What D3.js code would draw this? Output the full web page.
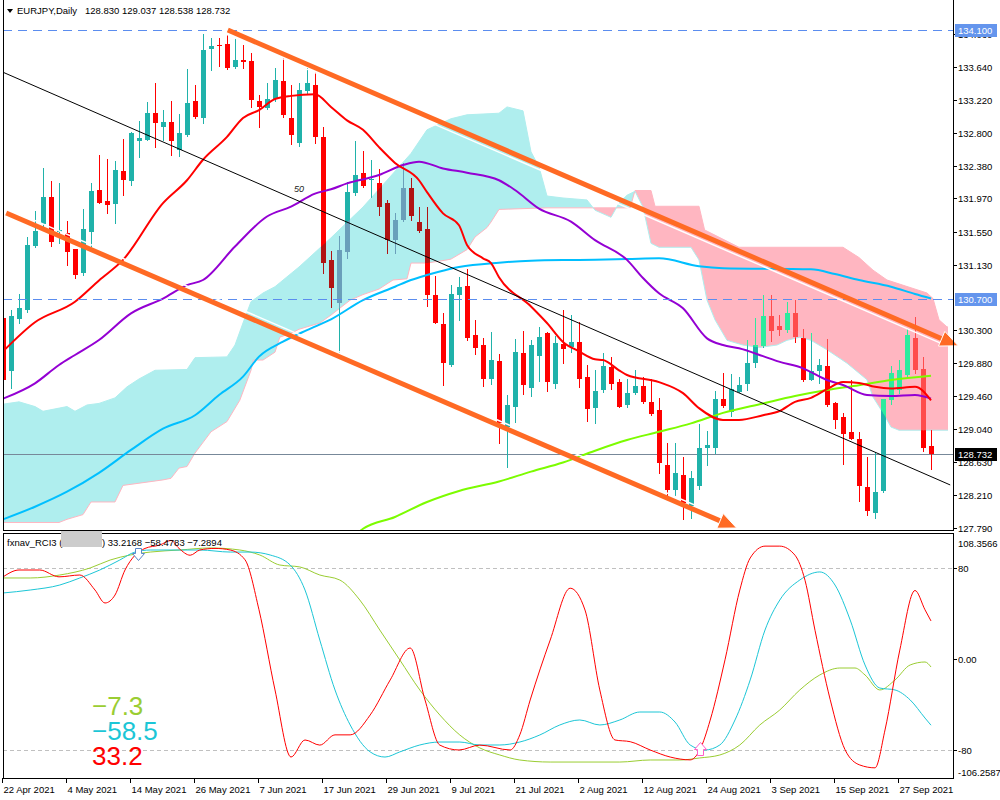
<!DOCTYPE html>
<html><head><meta charset="utf-8">
<script src="https://cdn.jsdelivr.net/npm/d3@7"></script>
<style>body{margin:0;background:#fff}svg{display:block}text{font-family:"Liberation Sans",Arial,sans-serif}</style>
</head><body>
<svg id="c" width="1000" height="800"></svg>
<script>
// ---------- DATA ----------
const opens = [130.45,129.785,130.44,130.555,131.366,131.645,131.992,131.54,131.527,131.324,131.02,131.548,132.076,131.937,131.9,132.317,132.19,132.70,132.719,133.057,132.88,132.943,132.575,132.774,133.205,132.985,133.868,133.915,133.928,133.64,133.725,133.712,133.205,133.112,133.226,133.458,132.993,132.668,133.323,133.408,132.753,131.19,130.64,131.294,132.034,132.288,132.2,132.161,131.907,131.442,131.687,132.097,131.675,131.582,130.745,130.377,129.857,130.736,130.859,130.238,130.11,129.68,129.908,129.075,129.329,130.014,129.57,129.963,130.267,129.616,130.123,130.081,130.149,129.701,129.316,129.54,129.828,129.646,129.341,129.498,129.591,129.392,129.287,128.589,128.272,128.462,128.069,128.327,128.8,128.8,129.426,129.253,129.519,129.616,129.878,130.102,130.478,130.352,130.301,130.521,130.195,129.675,129.785,129.844,129.379,129.202,129.012,128.915,128.306,127.976,128.251,129.422,129.54,129.73,130.195,129.802,128.830];
const highs = [130.47,130.555,130.757,131.485,131.81,132.36,132.19,132.16,131.683,131.33,131.83,132.16,132.52,132.47,132.448,132.72,132.81,132.95,133.196,133.437,133.09,133.205,133.04,133.606,133.408,134.054,134.01,134.01,134.04,134.01,133.915,133.809,133.28,133.43,133.619,133.746,133.408,133.43,133.619,133.577,132.871,131.3,131.49,132.18,132.698,132.571,132.457,132.338,131.95,131.78,132.414,132.224,131.865,131.857,130.98,130.512,130.872,130.97,131.08,130.428,130.195,130.28,129.997,129.477,130.183,130.293,130.174,130.343,130.28,130.225,130.555,130.491,130.407,129.857,129.794,130.005,129.954,129.68,129.68,129.794,129.709,129.675,129.434,128.864,128.864,128.695,128.513,129.109,129.024,129.532,129.751,129.739,129.7,130.174,130.449,130.745,130.745,130.491,130.66,130.681,130.309,130.267,129.929,130.183,129.39,129.253,129.667,129.012,128.687,128.758,129.43,129.845,129.92,130.309,130.47,129.963,129.037];
const lows = [129.66,129.57,130.385,130.53,131.35,131.62,131.36,131.40,131.125,130.956,131.0,131.366,131.91,131.78,131.66,132.01,132.14,132.50,132.71,132.626,132.71,132.52,132.507,132.76,132.985,132.93,133.598,133.649,133.61,133.619,133.619,133.133,132.88,133.1,133.2,133.006,132.655,132.634,133.3,132.668,131.02,130.59,130.026,131.21,132.01,132.11,131.992,131.76,131.273,131.273,131.68,131.696,131.54,130.61,130.39,129.604,129.85,130.428,130.18,129.997,129.591,129.616,128.872,128.568,129.139,129.49,129.464,129.659,129.532,129.561,129.887,130.026,129.582,129.151,129.117,129.519,129.553,129.32,129.33,129.49,129.38,129.22,128.484,128.209,128.2,127.9,127.913,128.28,128.589,128.745,129.33,129.21,129.51,129.54,129.828,130.09,130.166,130.238,130.28,130.153,129.66,129.67,129.633,129.34,129.054,128.602,128.915,128.133,127.955,127.913,128.25,129.363,129.5,129.71,129.75,128.77,128.538];
const closes = [129.67,130.478,130.576,131.379,131.556,131.992,131.421,131.57,131.282,130.998,131.582,132.064,131.916,131.886,132.33,132.203,132.803,132.74,133.057,132.93,132.943,132.702,132.795,133.184,132.998,133.852,133.902,133.906,133.619,133.725,133.695,133.218,133.125,133.23,133.471,133.027,132.774,133.344,133.43,132.753,131.155,130.83,131.315,132.055,132.266,132.119,132.216,131.857,131.442,131.696,132.097,131.738,131.561,130.74,130.394,129.887,130.757,130.842,130.195,130.068,129.68,129.92,129.126,129.35,130.026,129.604,130.11,130.208,129.646,130.14,130.056,130.145,129.68,129.299,129.527,129.845,129.612,129.329,129.498,129.591,129.392,129.244,128.61,128.272,128.483,128.111,128.428,128.809,128.843,129.426,129.341,129.549,129.604,129.878,130.11,130.478,130.293,130.301,130.521,130.216,129.667,129.785,129.857,129.35,129.168,128.991,128.927,128.314,127.997,128.243,129.422,129.76,129.794,130.238,129.785,128.8,128.732];

const dateLabels = ['22 Apr 2021','4 May 2021','14 May 2021','26 May 2021','7 Jun 2021','17 Jun 2021','29 Jun 2021','9 Jul 2021','21 Jul 2021','2 Aug 2021','12 Aug 2021','24 Aug 2021','3 Sep 2021','15 Sep 2021','27 Sep 2021'];
const dateIdx = [0,8,16,24,32,40,48,56,64,72,80,88,96,104,112];
const priceTicks = [134.060,133.640,133.220,132.800,132.380,131.970,131.550,131.130,130.300,129.880,129.460,129.040,128.630,128.210,127.790];
const rciTicks = [108.3566,80,0,-80,-106.2587];
const rciTickLabels = ['108.3566','80','0.00','-80','-106.2587'];

const maRedIdx = [0,4,9,12,15,20,23,25,28,30,32,34,36,39,41,43,45,47,49,52,53,55,57,58,60,61,62,66,68,70,72,74,75,77,78,82,85,87,90,92,95,97,99,101,103,105,107,109,111,114,116];
const maRedVal = [130.03,130.40,130.66,130.93,131.19,131.91,132.2,132.46,132.75,132.99,133.09,133.23,133.27,133.29,133.13,132.96,132.84,132.62,132.42,132.2,132.05,131.78,131.63,131.38,131.21,131.15,130.97,130.6,130.39,130.15,130.03,129.93,129.92,129.79,129.73,129.64,129.5,129.31,129.16,129.16,129.22,129.27,129.39,129.44,129.55,129.64,129.63,129.58,129.56,129.58,129.41];
const maPurpleIdx = [0,4,7,9,12,16,20,23,25,29,33,36,39,41,43,47,50,52,55,58,62,64,67,71,74,78,80,82,85,88,90,92,95,97,100,103,105,108,111,114,116];
const maPurpleVal = [129.43,129.625,129.857,129.984,130.174,130.512,130.7,130.87,130.935,131.36,131.74,131.865,132.03,132.085,132.16,132.266,132.393,132.436,132.35,132.296,132.2,132.076,131.84,131.675,131.44,131.19,130.96,130.766,130.576,130.195,130.11,130.07,129.97,129.9,129.815,129.667,129.604,129.477,129.464,129.477,129.43];
const maBlueIdx = [0,4,8,12,16,20,24,27,30,32,35,38,41,45,49,51,53,57,62,66,72,78,82,87,90,101,104,107,111,114,116];
const maBlueVal = [127.90,128.06,128.25,128.49,128.78,129.05,129.22,129.477,129.71,129.963,130.153,130.3,130.436,130.68,130.85,130.935,130.998,131.1,131.155,131.18,131.19,131.2,131.21,131.11,131.085,131.07,131.01,130.935,130.85,130.757,130.70];
const maGreenIdx = [44,45,49,53,57,62,66,70,74,78,82,86,90,95,99,103,107,111,116];
const maGreenVal = [127.70,127.78,127.93,128.12,128.26,128.38,128.505,128.62,128.77,128.905,129.01,129.117,129.25,129.37,129.464,129.54,129.6,129.667,129.72];

const spanAIdx = [0,2,4,5,8,9,10.5,12,14,15.5,17,19,23,24,28,29,30,31,32.5,34,37,41,45,48,51,53,56,58,62,63,65,66,67,68,70,73,74,76,77,78,79,80,81,82,86,87,87.5,88,89,90.5,92.5,94.6,96.75,98,99.6,101,103,105.5,108,108.75,110,111,112,118.5];
const spanAVal = [129.36,129.39,129.33,129.27,129.33,129.27,129.35,129.37,129.44,129.58,129.68,129.79,129.8,129.95,129.96,130.11,130.39,130.66,130.77,130.85,131.1,131.47,131.86,132.2,132.54,132.84,132.98,133.03,133.05,133.13,133.08,132.56,132.37,132.0,131.975,131.95,131.82,131.73,131.91,132.01,132.06,131.86,131.4,131.35,131.35,131.19,130.935,130.68,130.43,130.17,130.11,130.08,130.11,130.17,130.21,130.17,130.05,129.88,129.67,129.45,129.25,129.07,129.03,129.03];
const spanBIdx = [0,7,8,10,11,14,15,20,21,22,23,24,26,28,29.6,31,31.3,32.5,34,34.6,36,37,39.6,41,43.4,45,47,48.75,50.5,51,53,55.5,56,58,59,60.5,61,62,68,78.4,79,81,81.5,87,87.7,92,105,107,108.75,110.5,115.5,116.25,117,118,118.5];
const spanBVal = [127.86,127.86,127.9,127.96,128.12,128.12,128.33,128.4,128.42,128.55,128.57,128.74,129.01,129.14,129.41,129.79,129.92,129.92,130.02,130.21,130.26,130.31,130.39,130.49,130.68,130.75,130.82,130.935,130.95,131.15,131.15,131.19,131.2,131.32,131.48,131.6,131.67,131.83,131.85,131.85,132.07,132.07,131.87,131.87,131.57,131.35,131.35,131.22,131.06,130.935,130.77,130.7,130.43,130.34,130.34];

const trendBlack = [[0,133.57],[118.4,128.336]];
const trendUpper = [[28.1,134.105],[119.4,130.10]];
const trendLower = [[0.4,131.785],[91.7,127.79]];
const hLevels = [134.100,130.700];
const bidPrice = 128.732;

const rciRedIdx = [0,2,4.6,7,9.6,11.5,12.75,14,15.25,16.5,17.75,19.6,21,22,23.4,24.6,26.5,28.4,30.25,32,34,36,37.75,39.6,41.5,43.4,45.9,48.4,50.9,52.75,54.6,57,59.6,63.4,64.6,65.9,68.4,70.9,72.75,74.6,76.5,78.4,80.9,83.4,85.9,87.1,88.4,90.25,92.1,93.4,95.25,97.1,99,100.25,101.5,103.4,105.25,107.1,109,110.25,112.1,114,115.25,116];
const rciRedVal = [71.9,78,78,72,73.6,60.4,49,56,78,91,97,100,104,97,91,95.6,97,95.6,87,43,-27.5,-86.5,-71.5,-76,-67,-67,-49.5,-18.7,9.4,-36.3,-76,-80.3,-76,-80.3,-67,-36.3,16.4,62,42.8,-27.5,-71.5,-73,-80.3,-86.5,-89,-80.3,-54,-1,60.4,88.6,99,99,91,69,25,-36,-80,-93.5,-96,-62.7,7.6,60,43,33.2];
const rciCyanIdx = [0,3.4,7.1,9.6,12.1,14.6,16.5,18.4,22.1,24.6,28.4,30.9,33.4,35.9,37.75,39.6,41.5,43.4,45.9,47.75,49.6,52.1,54.6,57.1,59.6,62.1,64.6,67.1,69.6,72.1,74.6,77.1,79.6,82.1,84,85.9,87.75,89.6,91.5,93.4,95.25,97.1,99.6,102.1,104,105.9,107.75,109.6,111.5,113.4,115.25,116];
const rciCyanVal = [57.8,60.4,64.8,71,78,86.8,93.8,95.6,95.6,95.6,93.8,93.8,91.2,82.4,60.4,16.4,-27.5,-58.3,-82,-86.5,-82,-75.9,-73.3,-73.3,-75.9,-75.9,-73.3,-67.1,-58.3,-53.9,-58.3,-53.9,-46.9,-46.9,-55.7,-75.9,-80.3,-75.9,-53.9,-18.7,25.2,51.6,69.2,76.3,64.8,34,-5.5,-25.8,-27.5,-36.3,-52.2,-58.5];
const rciGreenIdx = [0,3.4,7.1,10.9,13.4,15.9,18.4,22.1,25.9,29.6,32.1,34.6,37.1,39.6,42.1,44.6,47.1,49.6,52.1,54.6,57.1,59.6,62.1,64.6,68.4,77.1,80.9,84.6,87.1,89.6,92.1,94.6,97.1,99.6,102.1,104.6,106.5,107.75,109.6,111.5,113.4,115.25,116];
const rciGreenVal = [71,71,73.6,79.8,86.8,91.2,93.8,95.6,97.4,95.6,91.2,82.4,80.7,73.6,69.2,51.6,25.2,-1.1,-27.5,-49.5,-67.1,-78.5,-84.7,-89.1,-90.9,-90.9,-89.1,-89.1,-87.3,-84.7,-75.9,-58.3,-45.1,-27.5,-14.3,-8.2,-8.2,-14.3,-27.5,-18.7,-5.5,-2.9,-7.3];
const rciLast = [33.2168,-58.4783,-7.2894];

// ---------- SCALES ----------
const svg = d3.select('#c');
const x = d3.scaleLinear().domain([0,116]).range([3,931]);
const y = d3.scaleLinear().domain([133.64,127.79]).range([66.7,528]);
const yr = d3.scaleLinear().domain([108.3566,-106.2587]).range([535.5,779.5]);
const PL=3, PR=953, PB=530;
const FONT = 9.5;

const pts = (idx,val)=>idx.map((d,k)=>[d,val[k]]);
const A = pts(spanAIdx,spanAVal), B = pts(spanBIdx,spanBVal);
const defs = svg.append('defs');
defs.append('clipPath').attr('id','mainClip').append('rect').attr('x',PL+1).attr('y',1).attr('width',PR-PL-1).attr('height',PB-1);
defs.append('clipPath').attr('id','cloudClip').append('rect').attr('x',PL+1).attr('y',1).attr('width',948-PL-1).attr('height',PB-1);
defs.append('clipPath').attr('id','subClip').append('rect').attr('x',PL+1).attr('y',534).attr('width',PR-PL-1).attr('height',244);
const areaBelow = d3.area().x(d=>x(d[0])).y0(d=>y(d[1])).y1(700);
const areaAbove = d3.area().x(d=>x(d[0])).y0(-50).y1(d=>y(d[1]));
defs.append('clipPath').attr('id','belowA').append('path').attr('d',areaBelow(A));
defs.append('clipPath').attr('id','aboveB').append('path').attr('d',areaAbove(B));
defs.append('clipPath').attr('id','belowB').append('path').attr('d',areaBelow(B));
defs.append('clipPath').attr('id','aboveA').append('path').attr('d',areaAbove(A));

const main = svg.append('g').attr('clip-path','url(#mainClip)');

// ---------- CLOUD ----------
const cloud = main.append('g').attr('clip-path','url(#cloudClip)');
cloud.append('g').attr('clip-path','url(#aboveB)').append('path').attr('d',areaBelow(A)).attr('fill','#AFEEEE');
cloud.append('g').attr('clip-path','url(#aboveA)').append('path').attr('d',areaBelow(B)).attr('fill','#FFB6C1');
const lineP = d3.line().x(d=>x(d[0])).y(d=>y(d[1]));
cloud.append('path').attr('d',lineP(B)).attr('fill','none').attr('stroke','#FFB6C1').attr('stroke-width',1);
cloud.append('path').attr('d',lineP(A)).attr('fill','none').attr('stroke','#AFEEEE').attr('stroke-width',1);

// bid line
main.append('line').attr('x1',PL).attr('x2',PR).attr('y1',Math.round(y(bidPrice))+0.5).attr('y2',Math.round(y(bidPrice))+0.5)
  .attr('stroke','#778899').attr('stroke-width',1);

// ---------- CANDLES ----------
function drawCandles(g,bull,bear){
  const idx = d3.range(opens.length);
  const col = i=>closes[i]>=opens[i]?bull:bear;
  g.selectAll('line').data(idx).join('line')
    .attr('x1',i=>Math.round(x(i))+0.5).attr('x2',i=>Math.round(x(i))+0.5)
    .attr('y1',i=>Math.round(y(highs[i]))).attr('y2',i=>Math.round(y(lows[i]))+1)
    .attr('stroke',col).attr('stroke-width',1);
  g.selectAll('rect').data(idx).join('rect')
    .attr('x',i=>Math.round(x(i))-2).attr('width',5)
    .attr('y',i=>Math.round(y(Math.max(opens[i],closes[i]))))
    .attr('height',i=>Math.max(1,Math.round(Math.abs(y(opens[i])-y(closes[i])))))
    .attr('fill',col);
}
const cg = main.append('g').attr('shape-rendering','crispEdges');
drawCandles(cg.append('g'),'#20B2AA','#FF0000');
drawCandles(cg.append('g').attr('clip-path','url(#belowA)').append('g').attr('clip-path','url(#aboveB)'),'#6A9FBA','#B01414');
drawCandles(cg.append('g').attr('clip-path','url(#belowB)').append('g').attr('clip-path','url(#aboveA)'),'#2EEB9E','#FF4C4C');

// ---------- MAs ----------
const lineC = d3.line().x(d=>x(d[0])).y(d=>y(d[1])).curve(d3.curveMonotoneX);
[[maGreenIdx,maGreenVal,'#7CFC00'],[maBlueIdx,maBlueVal,'#00BFFF'],[maPurpleIdx,maPurpleVal,'#9400D3'],[maRedIdx,maRedVal,'#FF0000']]
 .forEach(([i,v,c])=>main.append('path').attr('d',lineC(pts(i,v))).attr('fill','none').attr('stroke',c).attr('stroke-width',2));

main.append('text').attr('x',294).attr('y',192).attr('font-size',9).attr('font-style','italic').attr('fill','#222').text('50');

// trend line black
main.append('line').attr('x1',x(trendBlack[0][0])).attr('y1',y(trendBlack[0][1])).attr('x2',x(trendBlack[1][0])).attr('y2',y(trendBlack[1][1]))
  .attr('stroke','#000').attr('stroke-width',1);

// horizontal dashed levels
hLevels.forEach(p=>{
  main.append('line').attr('x1',PL).attr('x2',PR).attr('y1',Math.round(y(p))+0.5).attr('y2',Math.round(y(p))+0.5)
   .attr('stroke','#5B8DEF').attr('stroke-width',1).attr('stroke-dasharray','9,6').attr('shape-rendering','crispEdges');
});

// orange arrows
function orangeArrow(t,off){
  const x1=x(t[0][0]),y1=y(t[0][1]),x2=x(t[1][0]),y2=y(t[1][1]);
  const ang=Math.atan2(y2-y1,x2-x1);
  const L=18,W=8;
  const bx=x2-L*Math.cos(ang), by=y2-L*Math.sin(ang);
  const nx=-Math.sin(ang), ny=Math.cos(ang);
  svg.append('line').attr('x1',x1+nx*off).attr('y1',y1+ny*off).attr('x2',bx+nx*off).attr('y2',by+ny*off)
    .attr('stroke','#fff').attr('stroke-width',1.5);
  svg.append('line').attr('x1',x1).attr('y1',y1).attr('x2',bx+2*Math.cos(ang)).attr('y2',by+2*Math.sin(ang))
    .attr('stroke','#FF6A24').attr('stroke-width',5);
  svg.append('path').attr('d',`M${x2},${y2}L${bx+nx*W},${by+ny*W}L${bx-nx*W},${by-ny*W}Z`)
    .attr('fill','#FF6A24').attr('stroke','#fff').attr('stroke-width',1);
}
orangeArrow(trendUpper,4.5);
orangeArrow(trendLower,-4.5);

// ---------- FRAMES ----------
const fr = svg.append('g').attr('shape-rendering','crispEdges');
fr.append('line').attr('x1',PL+0.5).attr('x2',PL+0.5).attr('y1',0).attr('y2',PB).attr('stroke','#000');
fr.append('line').attr('x1',PR+0.5).attr('x2',PR+0.5).attr('y1',0).attr('y2',PB).attr('stroke','#000');
fr.append('line').attr('x1',PL).attr('x2',PR+1).attr('y1',PB+0.5).attr('y2',PB+0.5).attr('stroke','#000');
fr.append('line').attr('x1',PL).attr('x2',PR+1).attr('y1',533.5).attr('y2',533.5).attr('stroke','#000');
fr.append('line').attr('x1',PL+0.5).attr('x2',PL+0.5).attr('y1',533).attr('y2',779).attr('stroke','#000');
fr.append('line').attr('x1',PR+0.5).attr('x2',PR+0.5).attr('y1',533).attr('y2',779).attr('stroke','#000');
fr.append('line').attr('x1',PL).attr('x2',PR+1).attr('y1',778.5).attr('y2',778.5).attr('stroke','#000');

// ---------- PRICE AXIS ----------
const ax = svg.append('g');
priceTicks.forEach(p=>{
  const yy=Math.round(y(p))+0.5;
  ax.append('line').attr('x1',PR).attr('x2',PR+4).attr('y1',yy).attr('y2',yy).attr('stroke','#000').attr('shape-rendering','crispEdges');
  ax.append('text').attr('x',958).attr('y',yy+3.5).attr('font-size',FONT).attr('fill','#000').text(d3.format('.3f')(p));
});
function priceBox(p,bg,fg){
  const yy=Math.round(y(p));
  ax.append('rect').attr('x',PR+2).attr('y',yy-6).attr('width',42).attr('height',13).attr('fill',bg);
  ax.append('text').attr('x',958).attr('y',yy+4).attr('font-size',FONT).attr('fill',fg).text(d3.format('.3f')(p));
}
hLevels.forEach(p=>priceBox(p,'#6495ED','#fff'));
priceBox(bidPrice,'#000','#fff');

// ---------- DATE AXIS ----------
dateIdx.forEach((i,k)=>{
  const xx=Math.round(x(i))-0.5;
  ax.append('line').attr('x1',xx).attr('x2',xx).attr('y1',778).attr('y2',783).attr('stroke','#000').attr('shape-rendering','crispEdges');
  ax.append('text').attr('x',xx+1).attr('y',793).attr('font-size',FONT).attr('fill','#000').text(dateLabels[k]);
});

// ---------- HEADER ----------
svg.append('path').attr('d','M7,9L13,9L10,13Z').attr('fill','#000');
svg.append('text').attr('x',17).attr('y',14).attr('font-size',FONT).attr('fill','#000').text('EURJPY,Daily');
svg.append('text').attr('x',85).attr('y',14).attr('font-size',FONT).attr('fill','#000').text('128.830 129.037 128.538 128.732');

// ---------- RCI PANEL ----------
const sub = svg.append('g').attr('clip-path','url(#subClip)');
[80,-80].forEach(v=>{
  sub.append('line').attr('x1',PL).attr('x2',PR).attr('y1',Math.round(yr(v))+0.5).attr('y2',Math.round(yr(v))+0.5)
   .attr('stroke','#c0c0c0').attr('stroke-dasharray','4,3').attr('shape-rendering','crispEdges');
});
const lineR = d3.line().x(d=>x(d[0])).y(d=>yr(d[1])).curve(d3.curveMonotoneX);
[[rciGreenIdx,rciGreenVal,'#9ACD32'],[rciCyanIdx,rciCyanVal,'#1CC6D6'],[rciRedIdx,rciRedVal,'#FF0000']]
 .forEach(([i,v,c])=>sub.append('path').attr('d',lineR(pts(i,v))).attr('fill','none').attr('stroke',c).attr('stroke-width',1));

// markers
sub.append('path').attr('d','M135.5,548.5H141.5V553.5H144.5L138.5,560.5L132.5,553.5H135.5Z').attr('fill','#fff').attr('stroke','#5A86C8');
sub.append('path').attr('d','M700.5,742.5L706.5,749.5H703.5V755.5H697.5V749.5H694.5Z').attr('fill','#fff').attr('stroke','#FF5FC8');

rciTicks.forEach((v,k)=>{
  let yy=Math.round(yr(v))+0.5;
  let ty=yy+3.5;
  if(k===0) ty=yy+10; if(k===rciTicks.length-1) ty=yy-5;
  if(k>0 && k<rciTicks.length-1) ax.append('line').attr('x1',PR).attr('x2',PR+4).attr('y1',yy).attr('y2',yy).attr('stroke','#000').attr('shape-rendering','crispEdges');
  ax.append('text').attr('x',958).attr('y',ty).attr('font-size',FONT).attr('fill','#000').text(rciTickLabels[k]);
});

svg.append('text').attr('x',7).attr('y',546).attr('font-size',FONT).attr('fill','#000').text('fxnav_RCI3 (');
svg.append('rect').attr('x',61).attr('y',531).attr('width',41).attr('height',16).attr('fill','#cccccc');
svg.append('text').attr('x',102).attr('y',546).attr('font-size',FONT).attr('fill','#000')
  .text(') '+rciLast.map(d3.format('.4f')).join(' '));

const big = [[d3.format('.1f')(rciLast[2]),'#9ACD32',715],[d3.format('.1f')(rciLast[1]),'#1CC6D6',740],[d3.format('.1f')(rciLast[0]),'#FF0000',765]];
big.forEach(([t,c,yy])=>svg.append('text').attr('x',92).attr('y',yy).attr('font-size',26).attr('fill',c).text(t));
</script>
</body></html>
